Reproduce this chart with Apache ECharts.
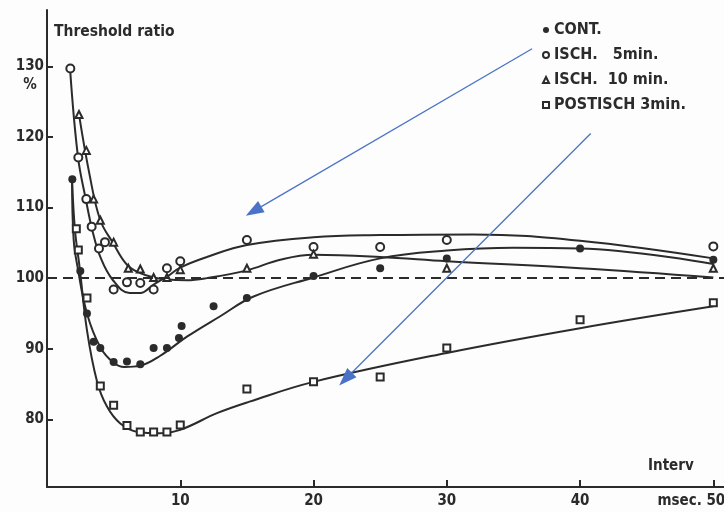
<!DOCTYPE html>
<html>
<head>
<meta charset="utf-8">
<script src="https://cdn.jsdelivr.net/npm/echarts@6/dist/echarts.min.js"></script>
<style>
  html, body { margin: 0; padding: 0; background: #fdfdfd; }
  #chart { width: 724px; height: 512px; }
</style>
</head>
<body>
<div id="chart"></div>
<script>
// Measured threshold ratios (%) against stimulus interval (msec)
const seriesNames = ['CONT.', 'ISCH.   5min.', 'ISCH.  10 min.', 'POSTISCH 3min.'];

const contX = [1.9, 2.5, 3, 3.5, 4, 5, 6, 7, 8, 9, 9.9, 10.1, 12.5, 15, 20, 25, 30, 40, 50];
const contY = [114, 101, 95, 91, 90.1, 88.1, 88.2, 87.8, 90.1, 90.1, 91.5, 93.2, 96, 97.2, 100.3, 101.4, 102.8, 104.2, 102.6];

const isch5X = [1.75, 2.35, 2.95, 3.35, 3.9, 4.35, 5, 6, 7, 8, 9, 10, 15, 20, 25, 30, 50];
const isch5Y = [129.7, 117.1, 111.2, 107.3, 104.2, 105.1, 98.4, 99.4, 99.3, 98.4, 101.4, 102.4, 105.4, 104.4, 104.4, 105.4, 104.5];

const isch10X = [2.4, 2.95, 3.5, 4, 5, 6.1, 7, 8, 9, 10, 15, 20, 30, 50];
const isch10Y = [123.2, 118.1, 111.2, 108.2, 105.1, 101.4, 101.3, 100.1, 100.1, 101.2, 101.4, 103.4, 101.4, 101.4];

const postX = [2.2, 2.35, 3, 4, 5, 6, 7, 8, 9, 10, 15, 20, 25, 30, 40, 50];
const postY = [107, 104, 97.2, 84.7, 82.0, 79.1, 78.2, 78.2, 78.2, 79.2, 84.3, 85.3, 86.0, 90.1, 94.1, 96.5];

// Hand-fitted trend curves (knots along each drawn curve)
const contCurveX = [1.88, 2.0, 2.3, 3.0, 4.0, 5.0, 5.8, 7.0, 8.5, 10.5, 13, 15.5, 20, 25, 30, 35, 40, 50];
const contCurveY = [113.9, 105.5, 101.5, 95.0, 90.2, 88.0, 87.4, 87.6, 89.0, 91.7, 94.6, 97.4, 100.1, 102.8, 103.9, 104.3, 104.2, 102.0];

const isch5CurveX = [1.73, 2.33, 2.93, 3.4, 4.0, 4.95, 6.2, 7.0, 8.0, 9.0, 10, 12, 15, 20, 25, 32, 40, 50];
const isch5CurveY = [129.7, 117.1, 111.0, 106.8, 103.0, 99.7, 97.9, 97.9, 99.1, 100.2, 101.5, 103.0, 104.7, 105.8, 106.1, 106.2, 105.3, 102.8];

const isch10CurveX = [2.4, 3.2, 4.0, 4.95, 6.0, 7.0, 8.0, 9.0, 10.5, 12, 15, 17.5, 20, 25, 30, 40, 50];
const isch10CurveY = [123.2, 114.6, 108.2, 105.0, 101.9, 100.7, 100.1, 99.8, 99.7, 100.0, 101.1, 102.6, 103.3, 103.0, 102.4, 101.4, 100.1];

const postCurveX = [1.88, 2.1, 2.45, 3.0, 3.75, 4.5, 5.5, 6.8, 8.5, 10, 12.8, 15.2, 20, 30, 40, 50];
const postCurveY = [113.9, 106.8, 101.5, 92.6, 85.4, 81.8, 79.4, 78.2, 78.0, 78.5, 80.9, 82.5, 85.3, 89.4, 92.9, 96.0];

// Axis ticks and the 100 % reference level
const xTicks = [10, 20, 30, 40, 50];
const yTicks = [80, 90, 100, 110, 120, 130];
const referenceLevel = 100;

// Annotation arrows: [start, head] in data units
const arrowUpper = [[36.4, 132.5], [15.5, 109.5]];
const arrowLower = [[40.8, 120.5], [22.4, 85.7]];

const pts = (xs, ys) => xs.map((x, i) => [x, ys[i]]);

const FONT = '"DejaVu Sans Condensed", "DejaVu Sans", sans-serif';
const INK = '#2b2b2b';
const BLUE = '#4a73c8';
const HEAD = 'path://M5,0 L10,14 L0,14 Z';

const curveBase = {
  type: 'line',
  showSymbol: false,
  smooth: 0.4,
  silent: true,
  z: 2,
  lineStyle: { color: INK, width: 2 }
};

const arrowItem = (a) => [
  { coord: a[0], symbol: 'none' },
  { coord: a[1], symbol: HEAD, symbolSize: [13, 18] }
];

const chart = echarts.init(document.getElementById('chart'), null, { renderer: 'canvas' });

chart.setOption({
  backgroundColor: '#fdfdfd',
  animation: false,
  title: {
    text: 'Threshold ratio',
    left: 49,
    top: 19,
    textStyle: { fontFamily: FONT, fontSize: 15.5, fontWeight: 'bold', color: INK }
  },
  legend: {
    orient: 'vertical',
    left: 537,
    top: 17,
    itemWidth: 6,
    itemHeight: 6,
    itemGap: 9,
    selectedMode: false,
    textStyle: { fontFamily: FONT, fontSize: 16, fontWeight: 'bold', color: INK },
    data: [
      { name: seriesNames[0], icon: 'circle' },
      { name: seriesNames[1], icon: 'emptyCircle' },
      { name: seriesNames[2], icon: 'emptyTriangle' },
      { name: seriesNames[3], icon: 'emptyRect' }
    ]
  },
  grid: { left: 47, right: 0, top: 10, bottom: 25, containLabel: false, outerBoundsMode: 'none' },
  xAxis: {
    type: 'value',
    min: 0,
    max: 50.8,
    axisLine: { lineStyle: { color: INK, width: 2 } },
    axisTick: { inside: true, length: 7, customValues: xTicks, lineStyle: { color: INK, width: 2 } },
    splitLine: { show: false },
    axisLabel: {
      customValues: xTicks,
      margin: 7,
      fontFamily: FONT,
      fontSize: 15,
      fontWeight: 'bold',
      color: INK,
      formatter: v => v === 50 ? '{u|msec. }50{s|}' : String(v),
      rich: {
        u: { fontFamily: FONT, fontSize: 15, fontWeight: 'bold', color: INK },
        s: { width: 44 }
      }
    }
  },
  yAxis: {
    type: 'value',
    min: 70.4,
    max: 138,
    axisLine: { lineStyle: { color: INK, width: 2 } },
    axisTick: { inside: true, length: 6, customValues: yTicks, lineStyle: { color: INK, width: 2 } },
    splitLine: { show: false },
    axisLabel: {
      customValues: yTicks,
      margin: 3,
      fontFamily: FONT,
      fontSize: 15,
      fontWeight: 'bold',
      color: INK,
      lineHeight: 19,
      formatter: v => v === 130 ? '{e| }\n130\n{p|%}' : String(v),
      rich: {
        e: { width: 26, lineHeight: 19 },
        p: { width: 26, align: 'center', lineHeight: 19, fontFamily: FONT, fontSize: 15, fontWeight: 'bold', color: INK }
      }
    }
  },
  graphic: [
    {
      type: 'text',
      left: 648,
      top: 459,
      style: { text: 'Interv', font: 'bold 15px ' + FONT, fill: INK }
    }
  ],
  series: [
    Object.assign({}, curveBase, {
      name: 'curve-cont',
      data: pts(contCurveX, contCurveY),
      markLine: {
        silent: true,
        symbol: 'none',
        label: { show: false },
        lineStyle: { color: INK, width: 2, type: [10, 6] },
        data: [{ yAxis: referenceLevel }]
      }
    }),
    Object.assign({}, curveBase, { name: 'curve-isch5', data: pts(isch5CurveX, isch5CurveY) }),
    Object.assign({}, curveBase, { name: 'curve-isch10', data: pts(isch10CurveX, isch10CurveY) }),
    Object.assign({}, curveBase, {
      name: 'curve-post',
      data: pts(postCurveX, postCurveY),
      markLine: {
        silent: true,
        symbol: ['none', HEAD],
        label: { show: false },
        lineStyle: { color: BLUE, width: 1.3, type: 'solid' },
        z: 10,
        data: [arrowItem(arrowUpper), arrowItem(arrowLower)]
      }
    }),
    {
      name: seriesNames[0], type: 'scatter', z: 3,
      symbol: 'circle', symbolSize: 8,
      itemStyle: { color: INK, opacity: 1 },
      data: pts(contX, contY)
    },
    {
      name: seriesNames[1], type: 'scatter', z: 3,
      symbol: 'emptyCircle', symbolSize: 8,
      itemStyle: { color: INK, borderColor: INK, borderWidth: 1.4, opacity: 1 },
      data: pts(isch5X, isch5Y)
    },
    {
      name: seriesNames[2], type: 'scatter', z: 3,
      symbol: 'emptyTriangle', symbolSize: 7,
      itemStyle: { color: INK, borderColor: INK, borderWidth: 1.2, opacity: 1 },
      data: pts(isch10X, isch10Y)
    },
    {
      name: seriesNames[3], type: 'scatter', z: 3,
      symbol: 'emptyRect', symbolSize: 7,
      itemStyle: { color: INK, borderColor: INK, borderWidth: 1.2, opacity: 1 },
      data: pts(postX, postY)
    }
  ]
});
</script>
</body>
</html>
